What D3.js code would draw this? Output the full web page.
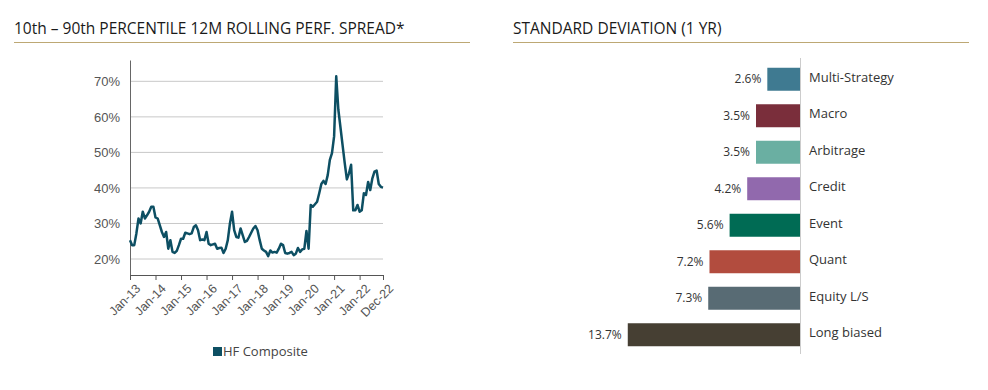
<!DOCTYPE html>
<html lang="en">
  <head>
    <meta charset="UTF-8" />
    <title>Spread and standard deviation</title>
    <script src="https://d3js.org/d3.v7.min.js"></script>
    <style>
      body {
        margin: 0;
        background: #fff;
      }
      svg {
        font-family: "Open Sans", sans-serif;
      }
      .title {
        font-size: 15.5px;
        fill: #1a1a1a;
      }
      .axis text {
        font-size: 12.5px;
        fill: #555;
      }
      .grid line {
        stroke: #c8c8c8;
      }
    </style>
  </head>
  <body>
    <svg id="chart" width="988" height="390"></svg>
    <script>
      // monthly spread, Jan-13 .. Dec-22
      const spread = [
        25.3, 23.9, 23.9, 27.2, 31.4, 30.0, 33.3, 31.4, 32.3, 33.3, 34.7, 34.7,
        31.7, 31.4, 29.5, 27.6, 26.2, 27.6, 22.9, 25.3, 22.0, 21.7, 22.3, 23.9,
        25.7, 25.7, 27.4, 27.2, 27.0, 27.2, 29.0, 29.5, 28.1, 25.3, 25.5, 25.3,
        27.6, 24.3, 23.9, 24.1, 24.3, 22.9, 23.1, 23.2, 21.7, 22.9, 25.3, 30.0,
        33.3, 28.1, 26.2, 26.0, 28.6, 26.7, 24.8, 25.1, 26.2, 27.4, 28.6, 29.3,
        28.1, 25.3, 22.9, 22.4, 22.0, 20.8, 22.4, 21.8, 22.0, 21.8, 22.9, 24.3,
        23.9, 21.7, 21.5, 21.7, 22.0, 21.1, 21.5, 23.1, 22.0, 22.7, 22.9, 27.9,
        22.9, 35.2, 34.7, 35.4, 36.1, 38.5, 41.1, 42.0, 41.1, 43.6, 47.9, 49.8,
        54.5, 71.4, 62.0, 57.0, 52.0, 47.0, 42.4, 44.1, 46.5, 33.7, 33.7, 35.2,
        33.3, 33.7, 38.5, 38.0, 41.7, 39.4, 42.7, 44.6, 44.9, 41.1, 40.3, 40.1
      ];
      const xTickLabels = ["Jan-13", "Jan-14", "Jan-15", "Jan-16", "Jan-17", "Jan-18",
        "Jan-19", "Jan-20", "Jan-21", "Jan-22", "Dec-22"];
      const xTickMonths = [0, 12, 24, 36, 48, 60, 72, 84, 96, 108, 119];
      const yTicks = [20, 30, 40, 50, 60, 70];

      const strategies = ["Multi-Strategy", "Macro", "Arbitrage", "Credit", "Event",
        "Quant", "Equity L/S", "Long biased"];
      const stdev = [2.6, 3.5, 3.5, 4.2, 5.6, 7.2, 7.3, 13.7];
      const barColors = ["#3f7a91", "#7a2e3b", "#6aafa2", "#9169ad", "#006b54",
        "#b24c3e", "#586b74", "#463f33"];

      const svg = d3.select("#chart");
      const gold = "#bda874";

      // titles
      svg.append("text").attr("class", "title").attr("x", 14).attr("y", 34)
        .text("10th – 90th PERCENTILE 12M ROLLING PERF. SPREAD*");
      svg.append("line").attr("x1", 14).attr("x2", 470).attr("y1", 42.5).attr("y2", 42.5)
        .attr("stroke", gold).attr("stroke-width", 1.2);
      svg.append("text").attr("class", "title").attr("x", 513).attr("y", 34)
        .text("STANDARD DEVIATION (1 YR)");
      svg.append("line").attr("x1", 513).attr("x2", 969).attr("y1", 42.5).attr("y2", 42.5)
        .attr("stroke", gold).attr("stroke-width", 1.2);

      // ---- line chart ----
      const x = d3.scaleLinear().domain([0, 119]).range([130, 383]);
      const y = d3.scaleLinear().domain([15.5, 76]).range([275, 60]);

      svg.append("g").attr("class", "grid")
        .selectAll("line")
        .data(yTicks)
        .join("line")
        .attr("x1", 130).attr("x2", 383)
        .attr("y1", (d) => y(d)).attr("y2", (d) => y(d));

      const yAxis = svg.append("g").attr("class", "axis")
        .attr("transform", "translate(130,0)")
        .call(d3.axisLeft(y).tickValues(yTicks).tickSize(0).tickPadding(10)
          .tickFormat((d) => d + "%"));
      yAxis.select(".domain").attr("stroke", "#666");
      yAxis.selectAll("text").style("font-size", "13px");

      const xAxis = svg.append("g").attr("class", "axis")
        .attr("transform", "translate(0,275)")
        .call(d3.axisBottom(x).tickValues(xTickMonths).tickSize(5).tickPadding(4)
          .tickSizeOuter(0)
          .tickFormat((d, i) => xTickLabels[i]));
      xAxis.select(".domain").attr("stroke", "#555");
      xAxis.selectAll(".tick line").attr("stroke", "#555");
      xAxis.selectAll("text")
        .attr("text-anchor", "end")
        .attr("dx", "-0.2em")
        .attr("dy", "0.7em")
        .attr("transform", "rotate(-45)");

      svg.append("path")
        .datum(spread)
        .attr("fill", "none")
        .attr("stroke", "#0d4f63")
        .attr("stroke-width", 2.5)
        .attr("stroke-linejoin", "round")
        .attr("d", d3.line().x((d, i) => x(i)).y((d) => y(d)));

      // legend
      svg.append("rect").attr("x", 213).attr("y", 347).attr("width", 9).attr("height", 9)
        .attr("fill", "#0d4f63");
      svg.append("text").attr("x", 223).attr("y", 356)
        .attr("font-size", 13).attr("fill", "#444").text("HF Composite");

      // ---- bar chart ----
      const bx = d3.scaleLinear().domain([0, 14]).range([0, 176]);
      const by = d3.scaleBand().domain(strategies).range([61, 353]).paddingInner(0.37)
        .paddingOuter(0.185);
      const baseX = 800;

      const bars = svg.append("g").selectAll("g")
        .data(strategies)
        .join("g");

      bars.append("rect")
        .attr("x", (d, i) => baseX - bx(stdev[i]))
        .attr("y", (d) => by(d))
        .attr("width", (d, i) => bx(stdev[i]))
        .attr("height", by.bandwidth())
        .attr("fill", (d, i) => barColors[i]);

      bars.append("text")
        .attr("x", (d, i) => baseX - bx(stdev[i]) - 6)
        .attr("y", (d) => by(d) + by.bandwidth() / 2)
        .attr("dy", "0.35em")
        .attr("text-anchor", "end")
        .attr("font-size", 12)
        .attr("fill", "#333")
        .text((d, i) => stdev[i].toFixed(1) + "%");

      bars.append("text")
        .attr("x", baseX + 9)
        .attr("y", (d) => by(d) + by.bandwidth() / 2)
        .attr("dy", "0.2em")
        .attr("font-size", 13)
        .attr("fill", "#333")
        .text((d) => d);

      svg.append("line")
        .attr("x1", baseX + 0.5).attr("x2", baseX + 0.5)
        .attr("y1", 58).attr("y2", 354)
        .attr("stroke", "#ccc");
    </script>
  </body>
</html>
